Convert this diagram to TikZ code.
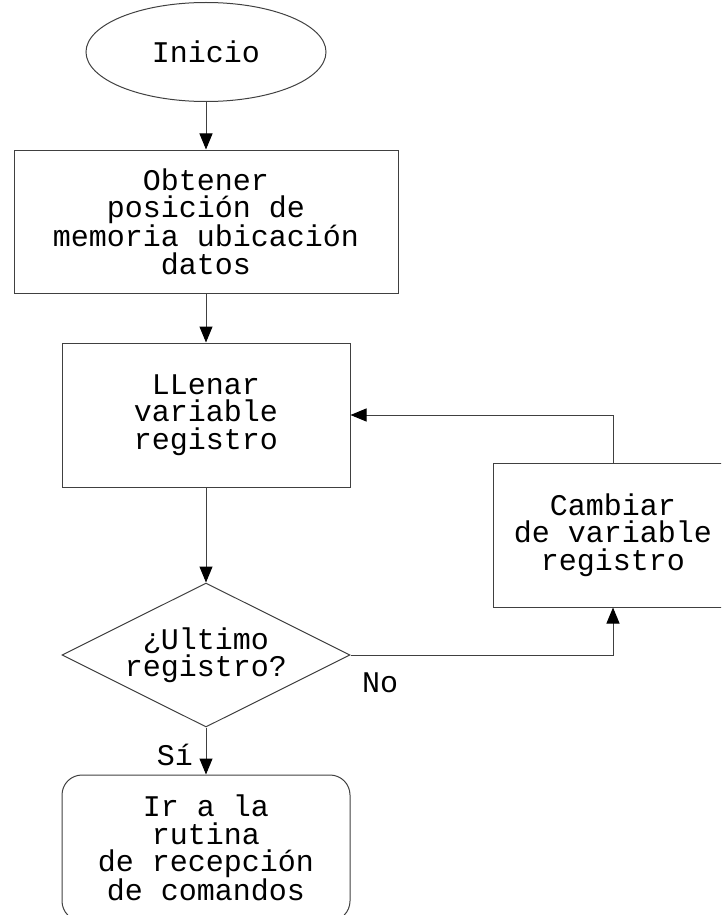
\documentclass[tikz,border=0pt]{standalone}
\usepackage{fontspec}
\newfontfamily\flowfont{Liberation Mono}
\usetikzlibrary{shapes.geometric,arrows.meta}

\tikzset{
  base/.style={draw=black!75, line width=1pt, align=center, inner sep=0pt,
    font=\flowfont\fontsize{30}{27.5}\selectfont},
  terminal/.style={base, ellipse, minimum width=240pt, minimum height=99pt},
  procbox/.style={base, rectangle, minimum width=#1, minimum height=144pt},
  decision/.style={base, diamond, aspect=2, minimum width=288pt, minimum height=144pt},
  endbox/.style={base, rectangle, rounded corners=20pt, minimum width=288pt, minimum height=146pt},
  flow/.style={draw=black!75, line width=1pt, -{Triangle[length=16pt,width=13pt,black]}},
  tag/.style={font=\flowfont\fontsize{30}{27.5}\selectfont, inner sep=0pt}
}

\begin{document}
\begin{tikzpicture}[x=1pt, y=-1pt]
  \useasboundingbox (0,0) rectangle (721,915);
  \clip (0,0) rectangle (721,915);

  % main column
  \node[terminal] (inicio) at (206,52) {Inicio};
  \node[procbox=384pt, minimum height=143pt] (obtener) at (206,221.5)
    {Obtener\\posición de\\memoria ubicación\\datos};
  \node[procbox=288pt] (llenar) at (206,415) {LLenar\\variable\\registro};
  \node[decision] (ultimo) at (206,655) {¿Ultimo\\registro?};
  \node[endbox] (ir) at (206,848)
    {Ir a la\\rutina\\de recepción\\de comandos};

  % side branch
  \node[procbox=240pt] (cambiar) at (613,535) {Cambiar \\de variable\\registro};

  % connectors
  \draw[flow] (inicio.south) -- (obtener.north);
  \draw[flow] (obtener.south) -- (llenar.north);
  \draw[flow] (llenar.south) -- (ultimo.north);
  \draw[flow] (ultimo.south) -- (ir.north);
  \draw[flow] (ultimo.east) -| (cambiar.south);
  \draw[flow] (cambiar.north) |- (llenar.east);

  % branch labels
  \node[tag] (no) at (380,683) {No};
  \node[tag] (si) at (175,755) {Sí};
\end{tikzpicture}
\end{document}
